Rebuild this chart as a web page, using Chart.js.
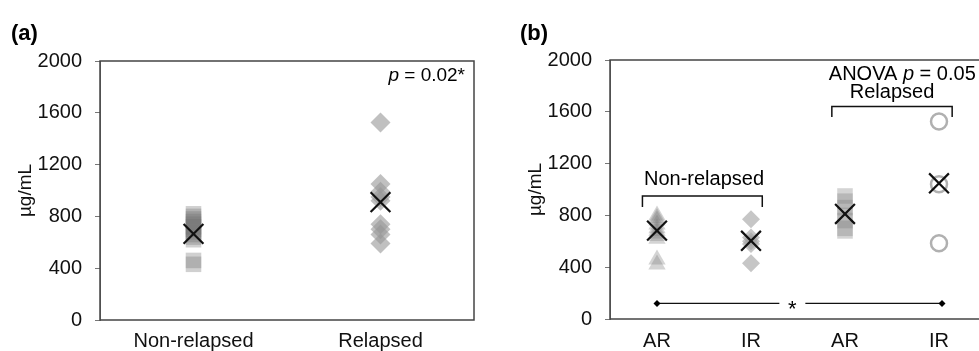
<!DOCTYPE html>
<html>
<head>
<meta charset="utf-8">
<script src="https://cdn.jsdelivr.net/npm/chart.js@4"></script>
<style>
  html, body { margin: 0; padding: 0; background: #fff; overflow: hidden; width: 979px; height: 351px; }
  canvas { position: absolute; top: 0; }
</style>
</head>
<body>
<canvas id="chartA" width="490" height="351" style="left:0"></canvas>
<canvas id="chartB" width="500" height="351" style="left:490px"></canvas>
<script>
const FONT = '"Liberation Sans", Arial, sans-serif';

// panel (a)
const catsA = ['Non-relapsed', 'Relapsed'];
const nonRelapsed = [820, 800, 780, 760, 740, 720, 700, 680, 660, 640, 620, 460, 430];
const relapsed = [1525, 1050, 990, 950, 920, 740, 700, 660, 590];
const meansA = [665, 910];

// panel (b)
const catsB = ['AR', 'IR', 'AR', 'IR'];
const arNonRel = [800, 780, 760, 730, 700, 680, 660, 640, 620, 460, 420];
const irNonRel = [770, 630, 600, 580, 430];
const arRel = [950, 910, 860, 800, 760, 700, 680];
const irRel = [1525, 1040, 585];
const meansB = [682, 604, 811, 1048];

const yTicks = [0, 400, 800, 1200, 1600, 2000];

function pts(values, xPos) {
    return values.map(v => ({ x: xPos, y: v }));
}

function meanSet(means) {
    return {
        data: means.map((m, i) => ({ x: i + 1, y: m })),
        pointStyle: 'crossRot',
        pointRadius: 14,
        borderColor: '#111',
        borderWidth: 2.2,
        order: 0
    };
}

function markSet(values, xPos, style, radius, fill, border, bw) {
    return {
        data: pts(values, xPos),
        pointStyle: style,
        pointRadius: radius,
        backgroundColor: fill,
        borderColor: border || 'rgba(0,0,0,0)',
        borderWidth: bw || 0,
        order: 1
    };
}

// draws text where some parts are italic
function mixedText(ctx, parts, x, y, align, size) {
    let total = 0;
    parts.forEach(p => {
        ctx.font = (p.i ? 'italic ' : '') + size + 'px ' + FONT;
        p.w = ctx.measureText(p.t).width;
        total += p.w;
    });
    let cx = align === 'right' ? x - total : align === 'center' ? x - total / 2 : x;
    ctx.textAlign = 'left';
    parts.forEach(p => {
        ctx.font = (p.i ? 'italic ' : '') + size + 'px ' + FONT;
        ctx.fillText(p.t, cx, y);
        cx += p.w;
    });
}

const framePlugin = {
    id: 'frame',
    beforeDatasetsDraw(chart) {
        const { ctx, chartArea: a } = chart;
        ctx.save();
        ctx.strokeStyle = '#444';
        ctx.lineWidth = 1.5;
        ctx.strokeRect(a.left, a.top, a.right - a.left, a.bottom - a.top);
        ctx.restore();
    }
};

function baseOptions(cats, pad, xHeight, xPad) {
    return {
        responsive: false,
        animation: false,
        events: [],
        layout: { padding: pad, autoPadding: false },
        plugins: { legend: { display: false }, tooltip: { enabled: false } },
        scales: {
            x: {
                type: 'linear',
                min: 0.5,
                max: cats.length + 0.5,
                afterBuildTicks: s => { s.ticks = cats.map((c, i) => ({ value: i + 1 })); },
                afterFit: s => { s.height = xHeight; },
                grid: { display: false, drawTicks: false },
                border: { display: false },
                ticks: {
                    padding: xPad,
                    maxRotation: 0,
                    autoSkip: false,
                    color: '#111',
                    font: { family: FONT, size: 20 },
                    callback: v => cats[v - 1]
                }
            },
            y: {
                min: 0,
                max: 2000,
                afterBuildTicks: s => { s.ticks = yTicks.map(v => ({ value: v })); },
                afterFit: s => { s.width = 86; },
                grid: { drawOnChartArea: false, drawTicks: true, tickLength: 5, color: '#777' },
                border: { display: true, color: '#777' },
                ticks: {
                    padding: 13,
                    color: '#111',
                    font: { family: FONT, size: 20 },
                    callback: v => String(v)
                },
                title: {
                    display: true,
                    text: 'µg/mL',
                    padding: 0,
                    color: '#111',
                    font: { family: FONT, size: 19 }
                }
            }
        }
    };
}

// panel (a)
const annotA = {
    id: 'annotA',
    afterDraw(chart) {
        const { ctx, chartArea: a } = chart;
        ctx.save();
        ctx.fillStyle = '#000';
        ctx.textBaseline = 'alphabetic';
        ctx.font = 'bold 22px ' + FONT;
        ctx.textAlign = 'left';
        ctx.fillText('(a)', 11, 40);
        ctx.textBaseline = 'middle';
        mixedText(ctx, [{ t: 'p', i: true }, { t: ' = 0.02*' }], a.right - 9, 76, 'right', 19);
        ctx.restore();
    }
};

new Chart(document.getElementById('chartA'), {
    type: 'scatter',
    data: {
        datasets: [
            meanSet(meansA),
            markSet(nonRelapsed, 1, 'rect', 11, 'rgba(110,110,110,0.32)'),
            markSet(relapsed, 2, 'rectRot', 10, 'rgba(150,150,150,0.6)')
        ]
    },
    options: baseOptions(catsA, { left: 14, top: 61, right: 16, bottom: 0 }, 31, 9),
    plugins: [framePlugin, annotA]
});

// panel (b)
function bracket(ctx, x1, x2, yTop, yLeg) {
    ctx.beginPath();
    ctx.moveTo(x1, yLeg);
    ctx.lineTo(x1, yTop);
    ctx.lineTo(x2, yTop);
    ctx.lineTo(x2, yLeg);
    ctx.stroke();
}

function dot(ctx, x, y, r) {
    ctx.beginPath();
    ctx.moveTo(x - r, y);
    ctx.lineTo(x, y - r);
    ctx.lineTo(x + r, y);
    ctx.lineTo(x, y + r);
    ctx.closePath();
    ctx.fill();
}

const annotB = {
    id: 'annotB',
    afterDraw(chart) {
        const { ctx } = chart;
        const xs = chart.scales.x, ys = chart.scales.y;
        ctx.save();
        ctx.fillStyle = '#000';
        ctx.strokeStyle = '#111';
        ctx.font = 'bold 22px ' + FONT;
        ctx.textAlign = 'left';
        ctx.textBaseline = 'alphabetic';
        ctx.fillText('(b)', 30, 40);

        // brackets
        ctx.lineWidth = 1.5;
        bracket(ctx, xs.getPixelForValue(0.845), xs.getPixelForValue(2.12), ys.getPixelForValue(950), ys.getPixelForValue(865));
        bracket(ctx, xs.getPixelForValue(2.86), xs.getPixelForValue(4.14), ys.getPixelForValue(1640), ys.getPixelForValue(1560));

        ctx.textBaseline = 'middle';
        ctx.font = '20px ' + FONT;
        ctx.textAlign = 'center';
        ctx.fillText('Non-relapsed', xs.getPixelForValue(1.5), ys.getPixelForValue(1075));
        ctx.fillText('Relapsed', xs.getPixelForValue(3.5), ys.getPixelForValue(1750));
        mixedText(ctx, [{ t: 'ANOVA ' }, { t: 'p', i: true }, { t: ' = 0.05' }], xs.getPixelForValue(2.86) - 3, ys.getPixelForValue(1885), 'left', 20);

        // significance line AR non-relapsed vs IR relapsed
        const ly = ys.getPixelForValue(120);
        const x1 = xs.getPixelForValue(1), x2 = xs.getPixelForValue(4) + 3;
        const xm = xs.getPixelForValue(2.44);
        ctx.lineWidth = 1.3;
        ctx.beginPath();
        ctx.moveTo(x1, ly); ctx.lineTo(xm - 13, ly);
        ctx.moveTo(xm + 13, ly); ctx.lineTo(x2, ly);
        ctx.stroke();
        dot(ctx, x1, ly, 3.5);
        dot(ctx, x2, ly, 3.5);
        ctx.font = '22px ' + FONT;
        ctx.textAlign = 'center';
        ctx.textBaseline = 'alphabetic';
        ctx.fillText('*', xm, ly + 13);
        ctx.restore();
    }
};

new Chart(document.getElementById('chartB'), {
    type: 'scatter',
    data: {
        datasets: [
            meanSet(meansB),
            markSet(arNonRel, 1, 'triangle', 10, 'rgba(120,120,120,0.32)'),
            markSet(irNonRel, 2, 'rectRot', 9, 'rgba(160,160,160,0.6)'),
            markSet(arRel, 3, 'rect', 11, 'rgba(120,120,120,0.32)'),
            markSet(irRel, 4, 'circle', 8, 'rgba(255,255,255,0)', '#b0b0b0', 2.5)
        ]
    },
    options: baseOptions(catsB, { left: 34, top: 60, right: 4, bottom: 0 }, 32, 10),
    plugins: [framePlugin, annotB]
});
</script>
</body>
</html>
